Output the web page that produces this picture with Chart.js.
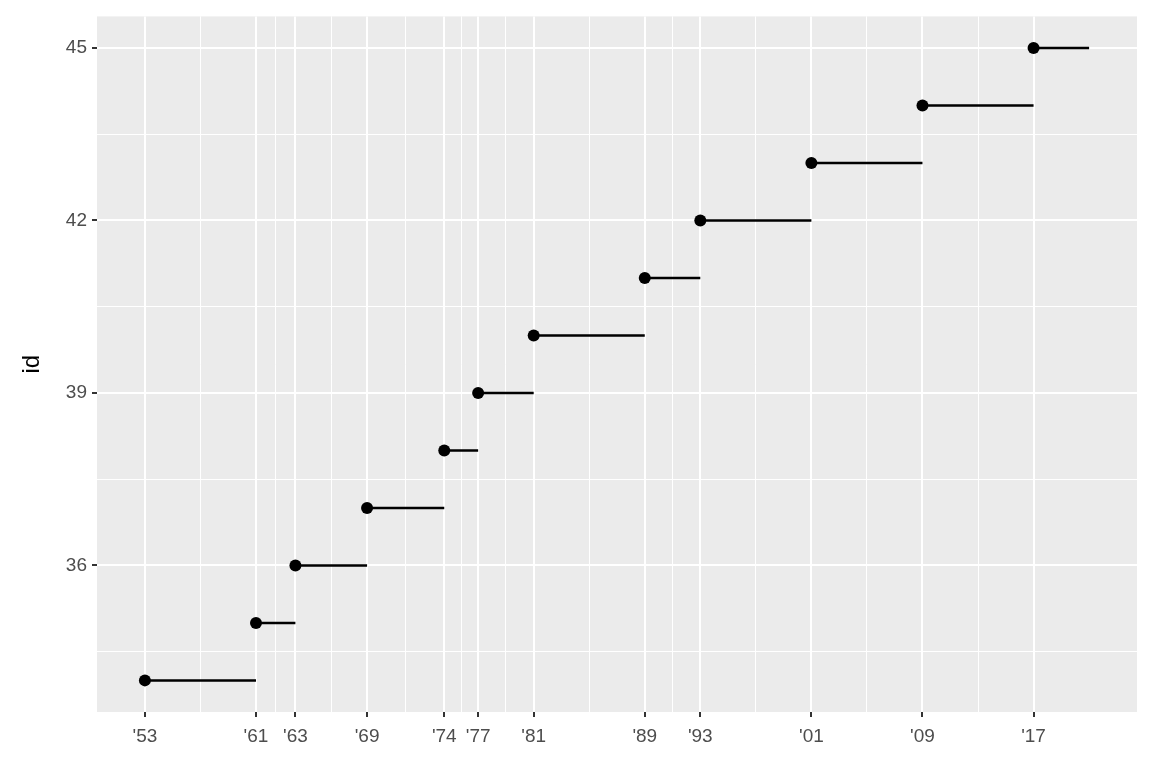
<!DOCTYPE html>
<html>
<head>
<meta charset="utf-8">
<script src="https://cdn.jsdelivr.net/npm/chart.js@4"></script>
<style>
  html, body { margin: 0; padding: 0; background: #fff; }
  #wrap { width: 1152px; height: 768px; }
</style>
</head>
<body>
<div id="wrap"><canvas id="chart"></canvas></div>
<script>
// presidents 34..45, term start / end as decimal years
const ids = [34, 35, 36, 37, 38, 39, 40, 41, 42, 43, 44, 45];
const starts = [1953.05, 1961.05, 1963.89, 1969.05, 1974.61, 1977.05, 1981.05, 1989.05, 1993.05, 2001.05, 2009.05, 2017.05];
const ends = [1961.05, 1963.89, 1969.05, 1974.61, 1977.05, 1981.05, 1989.05, 1993.05, 2001.05, 2009.05, 2017.05, 2021.05];
const xLabels = ["'53", "'61", "'63", "'69", "'74", "'77", "'81", "'89", "'93", "'01", "'09", "'17"];
const yBreaks = [36, 39, 42, 45];

const segData = [];
ids.forEach((id, i) => {
  segData.push({ x: starts[i], y: id }, { x: ends[i], y: id }, { x: NaN, y: NaN });
});
const pointData = ids.map((id, i) => ({ x: starts[i], y: id }));

function withMinors(breaks) {
  const out = [];
  breaks.forEach((b, i) => {
    out.push({ value: b, major: true });
    if (i < breaks.length - 1) out.push({ value: (b + breaks[i + 1]) / 2, major: false });
  });
  return out;
}
const xTicks = withMinors(starts);
const yTicks = [{ value: 34.5, major: false }].concat(withMinors(yBreaks));

const panelBg = {
  id: 'panelBg',
  beforeDraw(chart) {
    const a = chart.chartArea, c = chart.ctx;
    c.save();
    c.fillStyle = '#EBEBEB';
    c.fillRect(a.left, a.top, a.right - a.left, a.bottom - a.top);
    c.restore();
  }
};

const gridOpts = {
  color: '#FFFFFF',
  lineWidth: ctx => (ctx.tick && ctx.tick.major ? 2 : 1),
  tickColor: ctx => (ctx.tick && ctx.tick.major ? '#333333' : 'rgba(0,0,0,0)'),
  tickLength: 5,
  drawBorder: false
};

new Chart(document.getElementById('chart'), {
  type: 'line',
  data: {
    datasets: [
      { data: segData, borderColor: '#000', borderWidth: 2.5, pointRadius: 0, spanGaps: false },
      { data: pointData, showLine: false, pointRadius: 6, pointBackgroundColor: '#000', pointBorderWidth: 0 }
    ]
  },
  options: {
    responsive: true,
    maintainAspectRatio: false,
    animation: false,
    layout: { padding: { top: 15, right: 15, left: 0, bottom: 0 } },
    plugins: { legend: { display: false }, tooltip: { enabled: false } },
    scales: {
      x: {
        type: 'linear',
        min: 1949.6,
        max: 2024.5,
        border: { display: false },
        grid: gridOpts,
        afterBuildTicks: s => { s.ticks = xTicks.map(t => ({ ...t })); },
        afterFit: s => { s.height = 56; },
        ticks: {
          autoSkip: false,
          maxRotation: 0,
          color: '#4D4D4D',
          font: { family: 'Liberation Sans', size: 19 },
          padding: 8,
          callback: v => { const i = starts.indexOf(v); return i >= 0 ? xLabels[i] : ''; }
        }
      },
      y: {
        type: 'linear',
        min: 33.45,
        max: 45.55,
        border: { display: false },
        grid: gridOpts,
        afterBuildTicks: s => { s.ticks = yTicks.map(t => ({ ...t })); },
        afterFit: s => { s.width = 97; },
        title: { display: true, text: 'id', color: '#000', font: { family: 'Liberation Sans', size: 24 }, padding: { top: 18, bottom: 0 } },
        ticks: {
          color: '#4D4D4D',
          font: { family: 'Liberation Sans', size: 19 },
          padding: 5,
          callback: v => (yBreaks.includes(v) ? String(v) : '')
        }
      }
    }
  },
  plugins: [panelBg]
});
</script>
</body>
</html>
